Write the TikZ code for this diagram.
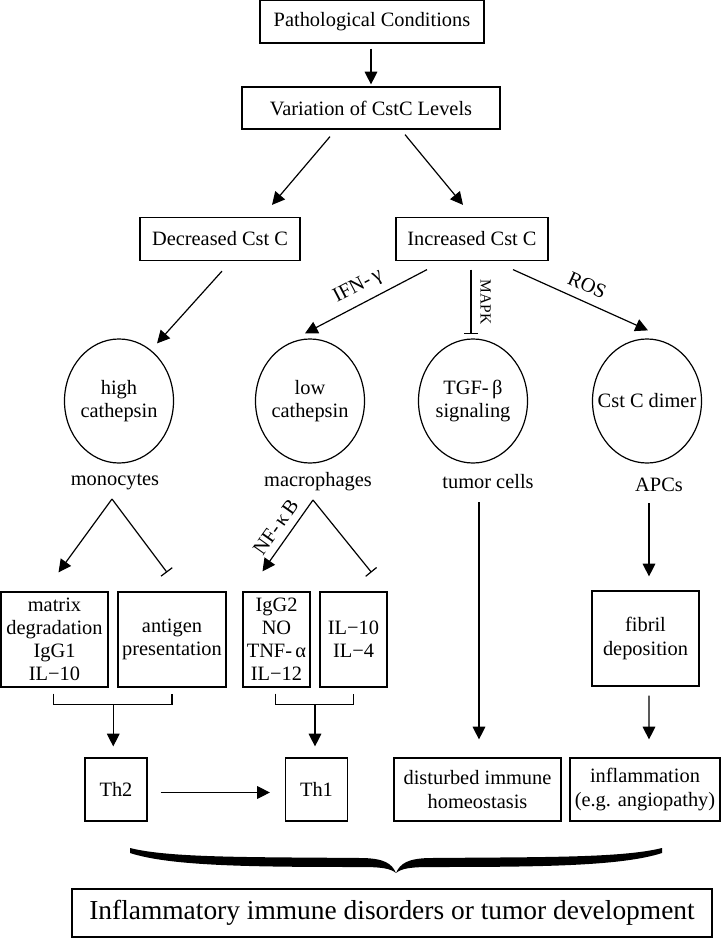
\documentclass[tikz,border=0pt]{standalone}
\usepackage{fontspec}
\setmainfont{Liberation Serif}
\usepackage{tikz}
\usetikzlibrary{calc,shapes,positioning}
\usetikzlibrary{arrows.meta}

\begin{document}
\begin{tikzpicture}[x=0.025cm, y=-0.025cm, font=\fontsize{14.5pt}{16.4pt}\selectfont, line width=0.85pt, >={Triangle[length=9pt,width=9pt]}]
  \useasboundingbox (0,0) rectangle (722,939);

    \tikzstyle{bnode} = [draw, rectangle, inner sep = 0pt, align=center]
    \tikzstyle{enode} = [draw, ellipse, inner sep = 0pt, minimum width = 2.725cm, minimum height = 3.1cm]
    \tikzstyle{tnode} = [inner sep = 1pt, align=center]
    \tikzstyle{inh} = [-{Bar[width=10pt]}]

    \node[bnode, minimum width=5.6cm, minimum height=1.075cm] (path) at (372,21.5) {Pathological Conditions};
    \node[bnode, minimum width=6.45cm, minimum height=1.05cm] (var) at (371,108) {Variation of CstC Levels};
    \node[bnode, minimum width=4cm, minimum height=1.075cm] (dec) at (220,239) {Decreased Cst C};
    \node[bnode, minimum width=3.8cm, minimum height=1.075cm] (inc) at (472,239) {Increased Cst C};

    \node[enode, label={[align=center]center:high\\cathepsin}] (high) at (119,401) {};
    \node[enode, label={[align=center]center:low\\cathepsin}] (low) at (310,401) {};
    \node[enode, label={[align=center]center:TGF-\,β\\signaling}] (tgf) at (473,401) {};
    \node[enode, label={[align=center]center:Cst C dimer}] (dimer) at (647,401) {};

    \node[tnode] (mono) at (115,482) {monocytes};
    \node[tnode] (macro) at (318,482) {macrophages};
    \node[tnode] (tumor) at (488,482) {tumor cells};
    \node[tnode] (apcs) at (659,485) {APCs};

    \node[bnode, minimum width=2.675cm, minimum height=2.375cm] (matrix) at (54.5,639.5) {matrix\\degradation\\IgG1\\IL−10};
    \node[bnode, minimum width=2.7cm, minimum height=2.375cm] (antigen) at (172,639.5) {antigen\\presentation};
    \node[bnode, minimum width=1.675cm, minimum height=2.375cm] (igg2) at (276.5,639.5) {IgG2\\NO\\TNF-\,α\\IL−12};
    \node[bnode, minimum width=1.675cm, minimum height=2.375cm] (il10) at (353.5,639.5) {IL−10\\IL−4};
    \node[bnode, minimum width=2.675cm, minimum height=2.375cm] (fibril) at (645.5,638.5) {fibril\\deposition};

    \node[bnode, minimum width=1.55cm, minimum height=1.575cm] (th2) at (116,789.5) {Th2};
    \node[bnode, minimum width=1.55cm, minimum height=1.575cm] (th1) at (316.5,789.5) {Th1};
    \node[bnode, minimum width=4.175cm, minimum height=1.575cm] (dist) at (477.5,789.5) {disturbed immune\\homeostasis};
    \node[bnode, minimum width=3.75cm, minimum height=1.575cm] (infl) at (645,789.5) {inflammation\\(e.g. angiopathy)};

    \node[bnode, minimum width=16cm, minimum height=1.2cm, font=\fontsize{19.5pt}{22pt}\selectfont] (result) at (392,913) {Inflammatory immune disorders or tumor development};

    \draw[->] ($(path.south)+(-1,5)$) -- ($(var.north)+(0,-2)$);
    \draw[->] ($(var.south)+(-41,7)$) -- ($(dec.north)+(52,-12)$);
    \draw[->] ($(var.south)+(34,5)$) -- ($(inc.north)+(-9,-12)$);
    \draw[->] ($(dec.south)+(2,10)$) -- ($(high.north)+(38,5)$);
    \draw[->] ($(inc.south)+(-45,8.5)$) -- node[sloped, above=2pt]{IFN-\,γ} ($(low.north)+(-5,-5)$);
    \draw[inh] ($(inc.south)+(-1,8.5)$) -- node[sloped, above=3pt, font=\fontsize{11pt}{12pt}\selectfont]{MAPK} ($(tgf.north)+(-2,-4)$);
    \draw[->] ($(inc.south)+(41,8.5)$) -- node[sloped, above=3pt]{ROS} ($(dimer.north)+(1,-8)$);

    \coordinate (m1) at ($(mono)+(-3,17)$);
    \draw[->] (m1) -- ($(matrix.north)+(4,-19)$);
    \draw[inh] (m1) -- ($(antigen.north)+(-5,-19)$);
    \coordinate (m2) at ($(macro)+(-5,18)$);
    \draw[->] (m2) -- node[sloped, above=2pt]{NF-\,κ\,B} ($(igg2.north)+(-14,-20)$);
    \draw[inh] (m2) -- ($(il10.north)+(18,-19)$);

    \draw ($(matrix.south)+(-1,6)$) -- ++(0,11) -| ($(antigen.south)+(0,6)$);
    \coordinate (b1) at ($(matrix.south)!0.5!(antigen.south)+(0,17)$);
    \draw[->, shorten >=0.275cm] (b1) -- (b1 |- th2.north);
    \draw ($(igg2.south)+(-1,6)$) -- ++(0,11) -| ($(il10.south)+(0,6)$);
    \coordinate (b2) at ($(igg2.south)!0.5!(il10.south)+(0,17)$);
    \draw[->, shorten >=0.275cm] (b2) -- (b2 |- th1.north);
    \draw[->] ($(th2.east)+(13,3)$) -- ($(th1.west)+(-15,3)$);

    \coordinate (t1) at ($(tumor)+(-9,20)$);
    \draw[->, shorten >=0.45cm] (t1) -- (t1 |- dist.north);
    \coordinate (a1) at ($(apcs)+(-10,18)$);
    \draw[->, shorten >=0.35cm] (a1) -- (a1 |- fibril.north);
    \draw[->] ($(fibril.south)+(3.5,9)$) -- ($(infl.north)+(4,-18)$);

    \fill (130,848) .. controls (170,858) and (250,857) .. (360,858)
      .. controls (385,858) and (392,864) .. (396,873)
      .. controls (400,864) and (407,858) .. (432,858)
      .. controls (542,857) and (622,858) .. (662,848)
      -- (662,853)
      .. controls (622,866) and (542,867) .. (432,867)
      .. controls (412,867) and (402,868) .. (396,873)
      .. controls (390,868) and (380,867) .. (360,867)
      .. controls (250,867) and (170,866) .. (130,853) -- cycle;

\end{tikzpicture}
\end{document}
